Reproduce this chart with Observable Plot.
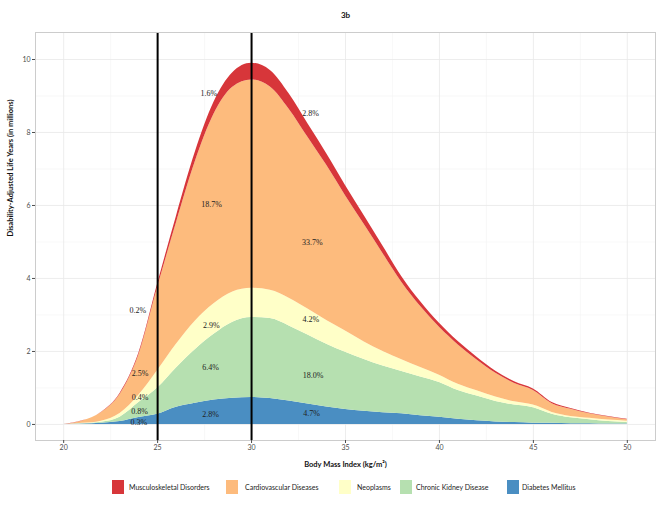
<!DOCTYPE html>
<html>
<head>
<meta charset="utf-8">
<script src="https://cdn.jsdelivr.net/npm/d3@7"></script>
<script src="https://cdn.jsdelivr.net/npm/@observablehq/plot@0.6"></script>
<style>
  html, body { margin: 0; padding: 0; background: white; }
  #wrap { position: relative; width: 660px; height: 510px; font-family: Lato, "Open Sans", sans-serif; }
  .lg-sw { position: absolute; width: 12px; height: 14px; top: 480px; }
  .lg-tx { position: absolute; top: 481px; font-size: 7px; color: #222; white-space: nowrap; line-height: 12px; }
</style>
</head>
<body>
<div id="wrap"></div>
<script>
// BMI values (kg/m²)
const bmi = [20,21,22,23,24,25,26,27,28,29,30,31,32,33,34,35,36,37,38,39,40,41,42,43,44,45,46,47,48,49,50];
// DALYs (millions) per cause at each BMI
const diabetes = [0,0.01,0.03,0.08,0.19,0.28,0.47,0.58,0.67,0.72,0.74,0.71,0.64,0.56,0.48,0.41,0.36,0.32,0.29,0.24,0.20,0.14,0.10,0.07,0.05,0.035,0.03,0.02,0.02,0.01,0.01];
const kidney = [0,0.01,0.03,0.12,0.41,0.72,1.08,1.47,1.80,2.08,2.19,2.19,2.06,1.89,1.72,1.57,1.42,1.28,1.16,1.06,0.95,0.79,0.68,0.56,0.48,0.425,0.25,0.16,0.11,0.07,0.04];
const neoplasms = [0,0.01,0.03,0.10,0.20,0.48,0.65,0.78,0.84,0.83,0.80,0.78,0.76,0.71,0.65,0.58,0.48,0.40,0.32,0.26,0.20,0.17,0.14,0.12,0.09,0.07,0.05,0.04,0.04,0.04,0.04];
const cardio = [0,0.065,0.23,0.52,1.10,2.27,3.32,4.36,5.19,5.61,5.71,5.57,5.18,4.71,4.25,3.71,3.22,2.68,2.12,1.67,1.31,1.08,0.845,0.65,0.50,0.40,0.24,0.195,0.12,0.085,0.04];
const musculo = [0,0.005,0.01,0.03,0.05,0.10,0.18,0.26,0.33,0.40,0.46,0.45,0.42,0.37,0.32,0.28,0.24,0.20,0.16,0.13,0.11,0.09,0.075,0.06,0.05,0.04,0.03,0.025,0.02,0.015,0.01];

const causes = ["Musculoskeletal Disorders","Cardiovascular Diseases","Neoplasms","Chronic Kidney Disease","Diabetes Mellitus"];
const causeColors = ["#d7363a","#fdbb7d","#ffffc8","#b6e0b0","#4a8ec2"];
const stackOrder = ["Diabetes Mellitus","Chronic Kidney Disease","Neoplasms","Cardiovascular Diseases","Musculoskeletal Disorders"];

// share labels
const labelText = ["1.6%","2.8%","18.7%","33.7%","0.2%","2.9%","4.2%","2.5%","6.4%","18.0%","0.4%","0.8%","0.3%","2.8%","4.7%"];
const labelBmi  = [27.73,33.14,27.87,33.24,23.95,27.86,33.15,24.06,27.82,33.28,24.06,24.04,24.0,27.82,33.19];
const labelVal  = [9.08,8.53,6.04,4.99,3.12,2.71,2.88,1.40,1.55,1.34,0.74,0.37,0.06,0.27,0.30];

const xTicks = [20,25,30,35,40,45,50];
const xMinor = [22.5,27.5,32.5,37.5,42.5,47.5];
const yTicks = [0,2,4,6,8,10];
const yMinor = [1,3,5,7,9];
const cutoffs = [25,30];

const series = {
  "Diabetes Mellitus": diabetes,
  "Chronic Kidney Disease": kidney,
  "Neoplasms": neoplasms,
  "Cardiovascular Diseases": cardio,
  "Musculoskeletal Disorders": musculo
};
const data = [];
for (const c of stackOrder) series[c].forEach((v, i) => data.push({bmi: bmi[i], value: v, cause: c}));
const labels = labelText.map((t, i) => ({t, x: labelBmi[i], y: labelVal[i]}));

const chart = Plot.plot({
  width: 660, height: 475,
  marginTop: 32, marginRight: 5, marginBottom: 35, marginLeft: 35,
  style: {fontFamily: "Lato, 'Open Sans', sans-serif", background: "white", overflow: "visible"},
  x: {domain: [18.5, 51.5]},
  y: {domain: [-0.44, 10.74]},
  color: {domain: causes, range: causeColors},
  marks: [
    Plot.gridX(xMinor, {stroke: "#f4f4f4", strokeOpacity: 1, strokeWidth: 0.6}),
    Plot.gridY(yMinor, {stroke: "#f4f4f4", strokeOpacity: 1, strokeWidth: 0.6}),
    Plot.gridX(xTicks, {stroke: "#e9e9e9", strokeOpacity: 1, strokeWidth: 0.8}),
    Plot.gridY(yTicks, {stroke: "#e9e9e9", strokeOpacity: 1, strokeWidth: 0.8}),
    Plot.areaY(data, {x: "bmi", y: "value", fill: "cause", z: "cause", order: stackOrder, curve: "monotone-x"}),
    Plot.ruleX(cutoffs, {stroke: "black", strokeWidth: 2}),
    Plot.text(labels, {x: "x", y: "y", text: "t", fontFamily: "'Liberation Serif', 'DejaVu Serif', serif", fontSize: 8, fill: "#222"}),
    Plot.frame({stroke: "#cccccc"}),
    Plot.axisX(xTicks, {tickSize: 3, tickPadding: 2, fontSize: 7, color: "#4d4d4d", label: null}),
    Plot.axisY(yTicks, {tickSize: 3, tickPadding: 2, fontSize: 7, color: "#4d4d4d", label: null}),
    Plot.text(["3b"], {frameAnchor: "top", dy: -20, fontWeight: "bold", fontSize: 8, fill: "#111"}),
    Plot.text(["Body Mass Index (kg/m²)"], {frameAnchor: "bottom", dy: 26, fontWeight: "bold", fontSize: 7.5, fill: "#111"}),
    Plot.text(["Disability-Adjusted Life Years (in millions)"], {frameAnchor: "left", dx: -25, rotate: -90, fontWeight: "bold", fontSize: 7.5, fill: "#111"})
  ]
});
const wrap = document.getElementById("wrap");
wrap.appendChild(chart);

const legendSwatchX = [112, 226, 339, 400, 507];
const legendTextX = [129, 245, 357, 416, 522];
causes.forEach((c, i) => {
  const sw = document.createElement("div");
  sw.className = "lg-sw";
  sw.style.left = legendSwatchX[i] + "px";
  sw.style.background = causeColors[i];
  wrap.appendChild(sw);
  const tx = document.createElement("div");
  tx.className = "lg-tx";
  tx.style.left = legendTextX[i] + "px";
  tx.textContent = c;
  wrap.appendChild(tx);
});
</script>
</body>
</html>
